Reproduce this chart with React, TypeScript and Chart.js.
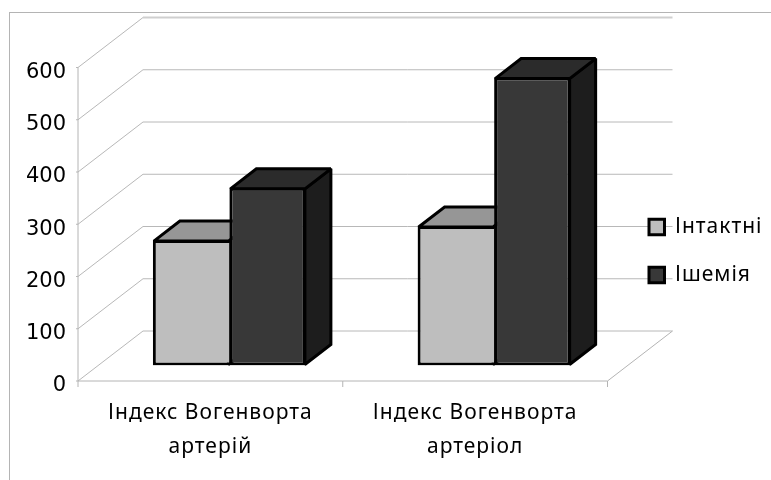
import React, { useEffect, useRef } from "react";
import { Chart, registerables } from "chart.js";

Chart.register(...registerables);

const categories = [["Індекс Вогенворта", "артерій"], ["Індекс Вогенворта", "артеріол"]];
const seriesNames = ["Інтактні", "Ішемія"];
const intactValues = [240, 267];
const ischemiaValues = [340, 551];
const yTicks = [0, 100, 200, 300, 400, 500, 600];

const FONT = "'DejaVu Sans'";
const TEXT_FONT = "'Noto Sans'";

// Oblique projection used for the box depth and the receding walls.
const WALL_DX = 65;
const WALL_DY = -50;
const BAR_SHIFT_X = 19;
const BAR_SHIFT_Y = -15.5;
const BAR_DEPTH_X = 26;
const BAR_DEPTH_Y = -20;

const faceColors = [
  { top: "#969696", side: "#7a7a7a" },
  { top: "#2b2b2b", side: "#1d1d1d" },
];

const line = (ctx: CanvasRenderingContext2D, pts: number[][], color: string, w = 1) => {
  ctx.beginPath();
  pts.forEach(([x, y], i) => (i ? ctx.lineTo(x, y) : ctx.moveTo(x, y)));
  ctx.strokeStyle = color;
  ctx.lineWidth = w;
  ctx.stroke();
};

// Runs a draw routine with slightly tracked-out text.
const withTracking = (target: any, method: string) => {
  const original = target[method].bind(target);
  target[method] = (...args: any[]) => {
    const ctx = target.ctx as any;
    const previous = ctx.letterSpacing;
    ctx.letterSpacing = "1px";
    original(...args);
    ctx.letterSpacing = previous;
  };
};

const frame3d = {
  id: "frame3d",
  afterLayout(chart: any) {
    // Legend sits to the right of the floor, vertically centred on the whole canvas.
    const legend = chart.legend;
    legend.left = 622;
    legend.right = chart.width;
    legend.width = chart.width - 622;
    legend.top = 11;
    legend.bottom = chart.height + 11;
    legend.height = chart.height;
    if (!chart.$tracked) {
      chart.$tracked = true;
      withTracking(chart.scales.x, "drawLabels");
      withTracking(legend, "draw");
    }
  },
  beforeDraw(chart: any) {
    const { ctx, scales } = chart;
    const { x, y } = scales;
    const left = x.left;
    const right = x.right;
    const y0 = y.getPixelForValue(0);
    ctx.save();
    ctx.fillStyle = "#ffffff";
    ctx.fillRect(0, 0, chart.width, chart.height);
    ctx.strokeStyle = "#b4b4b4";
    ctx.lineWidth = 1;
    ctx.strokeRect(9.5, 12.5, chart.width + 20, chart.height + 20);

    yTicks.forEach((v) => {
      const py = y.getPixelForValue(v);
      const backY = py + WALL_DY;
      line(ctx, [[left - 2, py], [left, py], [left + WALL_DX, backY]], "#b8b8b8");
      line(
        ctx,
        [[left + WALL_DX, backY], [right + WALL_DX, backY]],
        v === 600 ? "#cfcfcf" : "#b8b8b8",
        v === 600 ? 2 : 1,
      );
    });
    line(ctx, [[left, y.getPixelForValue(600)], [left, y0 + 6]], "#b4b4b4");
    line(ctx, [[left, y0], [right, y0], [right + WALL_DX, y0 + WALL_DY]], "#b4b4b4");
    const mid = (left + right) / 2;
    [mid, right].forEach((px) => line(ctx, [[px, y0], [px, y0 + 6]], "#b4b4b4"));
    ctx.restore();
  },
  beforeDatasetsDraw(chart: any) {
    const { ctx } = chart;
    ctx.save();
    ctx.translate(BAR_SHIFT_X, BAR_SHIFT_Y);
    chart.data.datasets.forEach((_: any, di: number) => {
      chart.getDatasetMeta(di).data.forEach((bar: any) => {
        const l = bar.x - bar.width / 2;
        const r = bar.x + bar.width / 2;
        const t = bar.y;
        const b = bar.base;
        ctx.lineWidth = 3;
        ctx.lineJoin = "miter";
        ctx.miterLimit = 2;
        ctx.strokeStyle = "#000";
        ctx.fillStyle = faceColors[di].side;
        ctx.beginPath();
        ctx.moveTo(r - 1, t + 1);
        ctx.lineTo(r - 1 + BAR_DEPTH_X, t + 1 + BAR_DEPTH_Y);
        ctx.lineTo(r - 1 + BAR_DEPTH_X, b - 1 + BAR_DEPTH_Y);
        ctx.lineTo(r - 1, b - 1);
        ctx.closePath();
        ctx.fill();
        ctx.stroke();
        ctx.fillStyle = faceColors[di].top;
        ctx.beginPath();
        ctx.moveTo(l + 1, t + 1);
        ctx.lineTo(l + 1 + BAR_DEPTH_X, t + 1 + BAR_DEPTH_Y);
        ctx.lineTo(r - 1 + BAR_DEPTH_X, t + 1 + BAR_DEPTH_Y);
        ctx.lineTo(r - 1, t + 1);
        ctx.closePath();
        ctx.fill();
        ctx.stroke();
      });
    });
  },
  afterDatasetsDraw(chart: any) {
    chart.ctx.restore();
  },
};

export default function App() {
  const ref = useRef<HTMLCanvasElement>(null);
  useEffect(() => {
    const chart = new Chart(ref.current!, {
      type: "bar",
      data: {
        labels: categories,
        datasets: [
          {
            label: seriesNames[0],
            data: intactValues,
            backgroundColor: "#bebebe",
            borderColor: "#000",
            borderWidth: 3,
            borderSkipped: "right",
          },
          {
            label: seriesNames[1],
            data: ischemiaValues,
            backgroundColor: "#383838",
            borderColor: "#000",
            borderWidth: 3,
            borderSkipped: false,
          },
        ],
      } as any,
      options: {
        responsive: false,
        animation: false,
        layout: { padding: { top: 67.5, left: 0, right: 25.5, bottom: 0 } },
        datasets: { bar: { categoryPercentage: 0.578, barPercentage: 1 } },
        plugins: {
          title: { display: false },
          tooltip: { enabled: false },
          legend: {
            display: true,
            position: "right",
            maxWidth: 138,
            labels: {
              boxWidth: 15.5,
              boxHeight: 15.5,
              padding: 27,
              color: "#000",
              font: { family: TEXT_FONT, size: 21 },
            },
          },
        },
        scales: {
          x: {
            grid: { display: false },
            border: { display: false },
            afterFit: (s: any) => {
              s.height = 99;
            },
            ticks: {
              color: "#000",
              maxRotation: 0,
              padding: 7,
              font: { family: TEXT_FONT, size: 21, lineHeight: 1.62 },
            },
          },
          y: {
            min: 0,
            max: 600,
            grid: { display: false },
            border: { display: false },
            afterFit: (s: any) => {
              s.width = 78;
            },
            ticks: {
              stepSize: 100,
              color: "#000",
              padding: 4,
              labelOffset: 5,
              font: { family: FONT, size: 21 },
            },
          },
        },
      },
      plugins: [frame3d],
    } as any);
    return () => chart.destroy();
  }, []);
  return (
    <canvas
      ref={ref}
      width={771}
      height={480}
      style={{ position: "absolute", left: 0, top: 0, display: "block" }}
    />
  );
}
